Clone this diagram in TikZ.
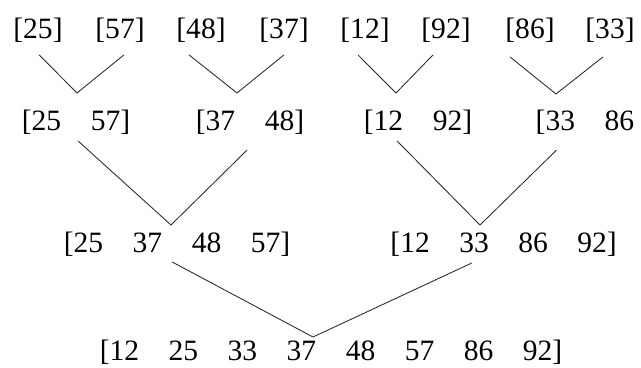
\documentclass[tikz,border=0pt]{standalone}
\usepackage{fontspec}
\setmainfont{Liberation Serif}
\usetikzlibrary{calc}

\begin{document}
\begin{tikzpicture}[
  num/.style={inner sep=0pt, font=\fontsize{21}{25}\selectfont},
  merge/.style={line width=0.6pt, black!85}]
\useasboundingbox (0,0) rectangle (16.025,-9.175);
% single values
\foreach \x/\v [count=\i] in {0.95/25, 3.0/57, 5.025/48, 7.1/37, 9.125/12, 11.15/92, 13.25/86, 15.25/33}
  \node[num] (s\i) at (\x,-0.75) {[\v]};
% pairs
\node[num] (p1) at (1.9,-3.05) {[25\quad 57]};
\node[num] (p2) at (6.25,-3.05) {[37\quad 48]};
\node[num] (p3) at (10.45,-3.05) {[12\quad 92]};
\node[num, anchor=west] (p4) at (13.385,-3.05) {[33\quad 86};
% runs of four
\node[num] (q1) at (4.425,-6.11) {[25\quad 37\quad 48\quad 57]};
\node[num] (q2) at (12.59,-6.11) {[12\quad 33\quad 86\quad 92]};
% sorted
\node[num] (all) at (8.275,-8.8) {[12\quad 25\quad 33\quad 37\quad 48\quad 57\quad 86\quad 92]};
% meeting points
\coordinate (m1) at (1.925,-2.325);
\coordinate (m2) at (5.925,-2.325);
\coordinate (m3) at (9.9,-2.325);
\coordinate (m4) at (13.9,-2.35);
\coordinate (m5) at (4.275,-5.625);
\coordinate (m6) at (12.0,-5.625);
\coordinate (m7) at (7.825,-8.425);
\draw[merge] ($(s1.south)+(0.03,-0.31)$) -- (m1) -- ($(s2.south)+(0.1,-0.31)$);
\draw[merge] ($(s3.south)+(-0.3,-0.31)$) -- (m2) -- ($(s4.south)+(0,-0.31)$);
\draw[merge] ($(s5.south)+(-0.175,-0.31)$) -- (m3) -- ($(s6.south)+(-0.325,-0.31)$);
\draw[merge] ($(s7.south)+(-0.5,-0.36)$) -- (m4) -- ($(s8.south)+(-0.175,-0.36)$);
\draw[merge] ($(p1.south)+(0.05,-0.16)$) -- (m5) -- ($(p2.south)+(-0.075,-0.39)$);
\draw[merge] ($(p3.south)+(-0.525,-0.16)$) -- (m6) -- ($(p4.south)+(-0.71,-0.39)$);
\draw[merge] ($(q1.south)+(-0.125,-0.125)$) -- (m7) -- ($(q2.south)+(-0.79,-0.15)$);
\end{tikzpicture}
\end{document}
